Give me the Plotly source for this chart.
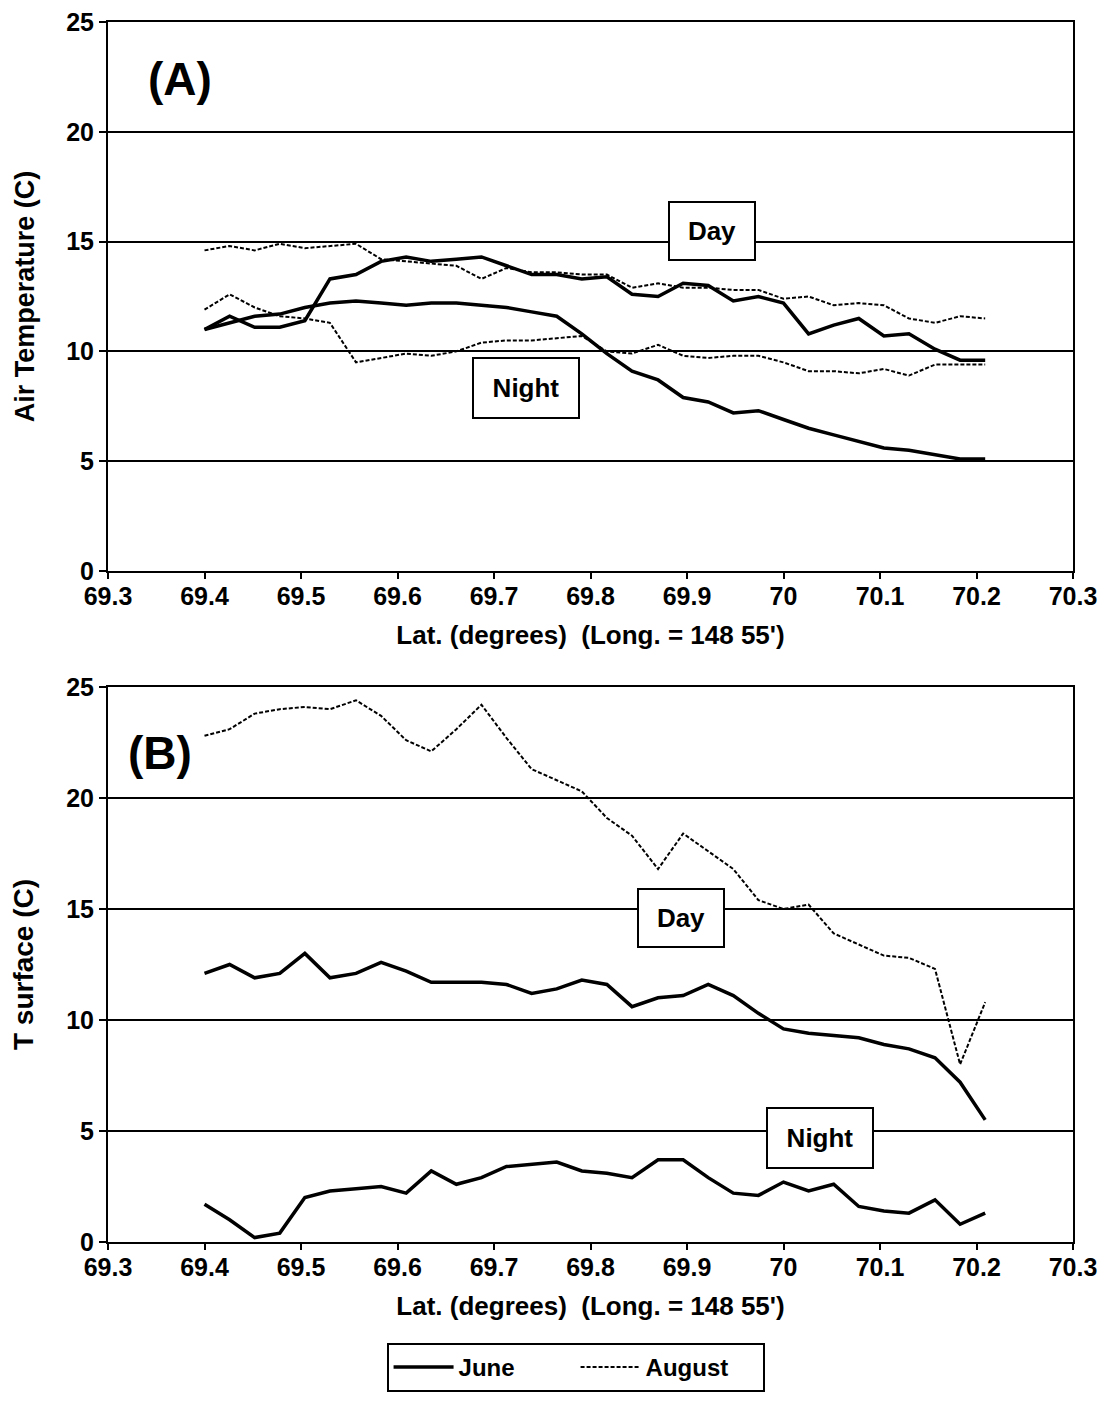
import plotly.graph_objects as go

# Latitude of each sample point (degrees N), longitude 148 55'
lat = [69.400, 69.426, 69.452, 69.478, 69.504, 69.530, 69.557, 69.583,
       69.609, 69.635, 69.661, 69.687, 69.713, 69.739, 69.765, 69.791,
       69.817, 69.843, 69.870, 69.896, 69.922, 69.948, 69.974, 70.000,
       70.026, 70.052, 70.078, 70.104, 70.130, 70.157, 70.183, 70.209]

# (A) Air temperature (C)
air_june_day = [11.0, 11.6, 11.1, 11.1, 11.4, 13.3, 13.5, 14.1, 14.3, 14.1, 14.2, 14.3,
                13.9, 13.5, 13.5, 13.3, 13.4, 12.6, 12.5, 13.1, 13.0, 12.3, 12.5, 12.2,
                10.8, 11.2, 11.5, 10.7, 10.8, 10.1, 9.6, 9.6]
air_june_night = [11.0, 11.3, 11.6, 11.7, 12.0, 12.2, 12.3, 12.2, 12.1, 12.2, 12.2, 12.1,
                  12.0, 11.8, 11.6, 10.8, 9.9, 9.1, 8.7, 7.9, 7.7, 7.2, 7.3, 6.9,
                  6.5, 6.2, 5.9, 5.6, 5.5, 5.3, 5.1, 5.1]
air_aug_day = [14.6, 14.8, 14.6, 14.9, 14.7, 14.8, 14.9, 14.2, 14.1, 14.0, 13.9, 13.3,
               13.8, 13.6, 13.6, 13.5, 13.5, 12.9, 13.1, 12.9, 12.9, 12.8, 12.8, 12.4,
               12.5, 12.1, 12.2, 12.1, 11.5, 11.3, 11.6, 11.5]
air_aug_night = [11.9, 12.6, 12.0, 11.6, 11.5, 11.3, 9.5, 9.7, 9.9, 9.8, 10.0, 10.4,
                 10.5, 10.5, 10.6, 10.7, 10.0, 9.9, 10.3, 9.8, 9.7, 9.8, 9.8, 9.5,
                 9.1, 9.1, 9.0, 9.2, 8.9, 9.4, 9.4, 9.4]

# (B) Surface temperature (C)
sfc_june_day = [12.1, 12.5, 11.9, 12.1, 13.0, 11.9, 12.1, 12.6, 12.2, 11.7, 11.7, 11.7,
                11.6, 11.2, 11.4, 11.8, 11.6, 10.6, 11.0, 11.1, 11.6, 11.1, 10.3, 9.6,
                9.4, 9.3, 9.2, 8.9, 8.7, 8.3, 7.2, 5.5]
sfc_june_night = [1.7, 1.0, 0.2, 0.4, 2.0, 2.3, 2.4, 2.5, 2.2, 3.2, 2.6, 2.9,
                  3.4, 3.5, 3.6, 3.2, 3.1, 2.9, 3.7, 3.7, 2.9, 2.2, 2.1, 2.7,
                  2.3, 2.6, 1.6, 1.4, 1.3, 1.9, 0.8, 1.3]
sfc_aug_day = [22.8, 23.1, 23.8, 24.0, 24.1, 24.0, 24.4, 23.7, 22.6, 22.1, 23.1, 24.2,
               22.7, 21.3, 20.8, 20.3, 19.1, 18.3, 16.8, 18.4, 17.6, 16.8, 15.4, 15.0,
               15.2, 13.9, 13.4, 12.9, 12.8, 12.3, 8.0, 10.8]

x_tickvals = [69.3, 69.4, 69.5, 69.6, 69.7, 69.8, 69.9, 70.0, 70.1, 70.2, 70.3]
x_ticktext = ["69.3", "69.4", "69.5", "69.6", "69.7", "69.8", "69.9", "70", "70.1", "70.2", "70.3"]
y_tickvals = [0, 5, 10, 15, 20, 25]

FONT = "Liberation Sans, Arial, Helvetica, sans-serif"
W, H = 1115, 1404

june_style = dict(color="black", width=3.5)
aug_style = dict(color="black", width=2, dash="4px,2px")

fig = go.Figure()

def add(y, style, xa, ya, name, show):
    fig.add_trace(go.Scatter(x=lat, y=y, mode="lines", line=style, xaxis=xa, yaxis=ya,
                             name=name, legendgroup=name, showlegend=show,
                             hoverinfo="skip"))

add(air_june_day, june_style, "x", "y", "June", True)
add(air_june_night, june_style, "x", "y", "June", False)
add(air_aug_day, aug_style, "x", "y", "August", True)
add(air_aug_night, aug_style, "x", "y", "August", False)
add(sfc_june_day, june_style, "x2", "y2", "June", False)
add(sfc_june_night, june_style, "x2", "y2", "June", False)
add(sfc_aug_day, aug_style, "x2", "y2", "August", False)

xdom = [108 / W, 1073 / W]
ydomA = [1 - 571 / H, 1 - 22 / H]
ydomB = [1 - 1242 / H, 1 - 687 / H]

bold = dict(family=FONT, color="black", weight="bold")

xcommon = dict(range=[69.3, 70.3], tickvals=x_tickvals, ticktext=x_ticktext,
               ticks="outside", ticklen=6, tickwidth=2, tickcolor="black",
               ticklabelstandoff=-4,
               showline=True, linecolor="black", linewidth=2, mirror=True,
               showgrid=False, zeroline=False, automargin=False,
               tickfont=dict(size=25, **bold),
               title=dict(text="Lat. (degrees)  (Long. = 148 55')",
                          font=dict(size=26, **bold), standoff=17))
ycommon = dict(range=[0, 25], tickvals=y_tickvals,
               ticks="outside", ticklen=7, tickwidth=2, tickcolor="black",
               showline=True, linecolor="black", linewidth=2, mirror=True,
               showgrid=True, gridcolor="black", gridwidth=2, zeroline=False,
               automargin=False,
               tickfont=dict(size=25, **bold))

fig.update_layout(
    width=W, height=H,
    margin=dict(l=0, r=0, t=0, b=0),
    paper_bgcolor="white", plot_bgcolor="white",
    font=dict(family=FONT, color="black"),
    xaxis=dict(domain=xdom, anchor="y", **xcommon),
    yaxis=dict(domain=ydomA, anchor="x",
               title=dict(text="Air Temperature (C)", font=dict(size=27, **bold), standoff=24),
               **ycommon),
    xaxis2=dict(domain=xdom, anchor="y2", **xcommon),
    yaxis2=dict(domain=ydomB, anchor="x2",
                title=dict(text="T surface (C)", font=dict(size=28, **bold), standoff=24),
                **ycommon),
    legend=dict(orientation="h", x=0.5162, xanchor="center", y=1 - 1343 / H, yanchor="top",
                bordercolor="black", borderwidth=2, bgcolor="white",
                font=dict(size=24, **bold),
                itemwidth=60, entrywidth=112, traceorder="normal"),
)

box = dict(showarrow=False, bgcolor="white", bordercolor="black", borderwidth=2,
           font=dict(size=26, **bold), borderpad=1,
           xref="paper", yref="paper", xanchor="center", yanchor="middle")
fig.add_annotation(text="Day", x=712 / W, y=1 - 231 / H, width=82, height=54, **box)
fig.add_annotation(text="Night", x=526 / W, y=1 - 388 / H, width=102, height=56, **box)
fig.add_annotation(text="Day", x=681 / W, y=1 - 918 / H, width=82, height=54, **box)
fig.add_annotation(text="Night", x=820 / W, y=1 - 1138 / H, width=102, height=56, **box)

panel = dict(showarrow=False, xref="paper", yref="paper", xanchor="center", yanchor="middle",
             font=dict(size=46, **bold))
fig.add_annotation(text="(A)", x=180 / W, y=1 - 79 / H, **panel)
fig.add_annotation(text="(B)", x=160 / W, y=1 - 753 / H, **panel)

fig.write_html("out.html")
